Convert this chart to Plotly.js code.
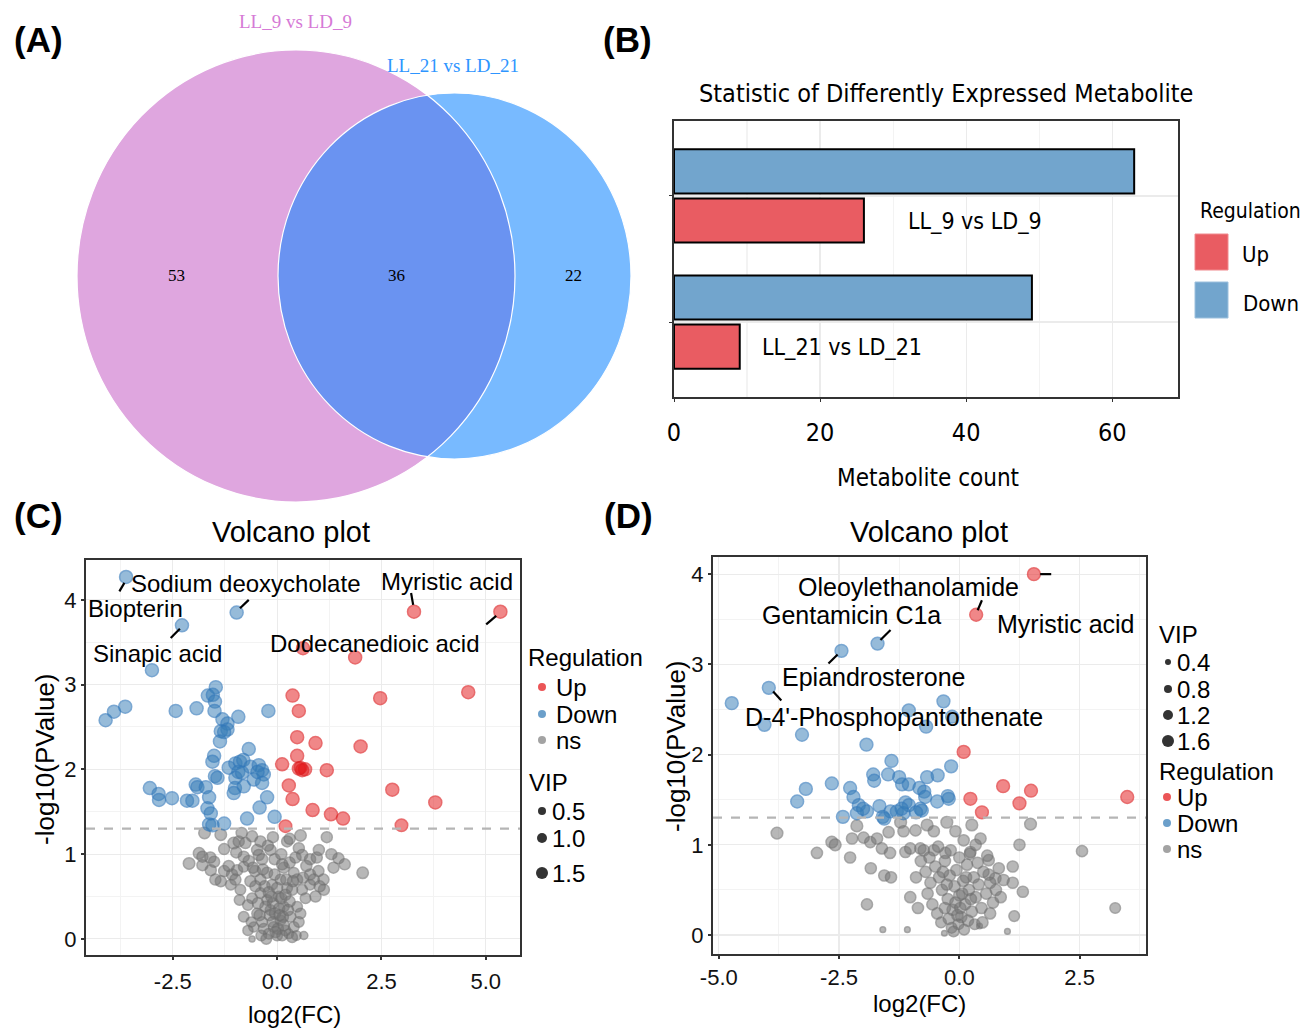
<!DOCTYPE html>
<html>
<head>
<meta charset="utf-8">
<script src="https://cdn.plot.ly/plotly-3.0.1.min.js"></script>
<style>html,body{margin:0;padding:0;background:#fff}#chart{width:1309px;height:1028px}</style>
</head>
<body>
<div id="chart"></div>
<script>
// ---------------- DATA ----------------
// Venn (A)
const vennSets = ["LL_9 vs LD_9", "LL_21 vs LD_21"];
const vennCounts = [53, 36, 22]; // only LL_9, shared, only LL_21

// Bar chart (B)
const barCategories = ["LL_9 vs LD_9", "LL_21 vs LD_21"];
const upCounts = [26, 9];
const downCounts = [63, 49];

// tick labels
const cXTickVals = [-2.5, 0, 2.5, 5];
const cXTickText = ["-2.5", "0.0", "2.5", "5.0"];
const dXTickVals = [-5, -2.5, 0, 2.5];
const dXTickText = ["-5.0", "-2.5", "0.0", "2.5"];

// Volcano C : [log2FC, -log10(p), VIP]
const cUp = [
  [3.28,3.86,1.5],[5.35,3.86,1.5],[0.62,3.43,1.5],[1.87,3.32,1.5],[4.58,2.91,1.5],[2.47,2.84,1.5],
  [0.37,2.87,1.5],[0.52,2.69,1.5],[0.48,2.38,1.5],[0.92,2.31,1.5],[2.00,2.27,1.5],[0.48,2.16,1.5],
  [0.12,2.06,1.5],[0.52,2.01,1.5],[0.60,1.99,1.5],[0.67,2.00,1.5],[0.56,2.02,1.4],[1.19,1.99,1.5],[0.28,1.81,1.5],
  [0.37,1.65,1.5],[2.76,1.76,1.5],[3.79,1.61,1.5],[0.85,1.52,1.5],[1.29,1.47,1.5],[1.58,1.42,1.5],
  [2.98,1.34,1.4],[0.20,1.33,1.4]
];
const cDown = [
  [-3.62,4.27,1.5],[-0.97,3.85,1.5],[-2.28,3.70,1.5],[-3.00,3.17,1.5],[-1.47,2.97,1.5],[-1.66,2.87,1.5],
  [-1.54,2.88,1.5],[-1.49,2.80,1.5],[-4.11,2.58,1.5],[-3.91,2.68,1.5],[-3.64,2.74,1.5],[-2.43,2.69,1.5],
  [-1.93,2.72,1.5],[-1.50,2.69,1.5],[-0.93,2.62,1.5],[-0.21,2.69,1.5],[-1.31,2.59,1.5],[-1.19,2.54,1.5],
  [-1.35,2.45,1.5],[-1.19,2.47,1.5],[-1.27,2.44,1.5],[-1.37,2.33,1.5],[-0.68,2.24,1.5],[-1.51,2.16,1.5],[-1.55,2.09,1.5],
  [-1.16,2.02,1.5],[-1.00,2.07,1.5],[-0.89,2.09,1.5],[-0.81,2.11,1.5],[-0.93,1.97,1.5],[-0.64,2.03,1.5],
  [-0.44,2.05,1.5],[-0.36,1.99,1.5],[-0.32,1.94,1.5],[-0.56,1.88,1.5],[-0.36,1.84,1.5],[-1.49,1.92,1.5],
  [-1.43,1.90,1.5],[-1.00,1.90,1.5],[-1.01,1.78,1.5],[-0.80,1.80,1.5],[-1.04,1.72,1.5],[-1.95,1.82,1.5],
  [-1.91,1.79,1.5],[-1.71,1.79,1.5],[-3.05,1.78,1.5],[-2.84,1.71,1.5],[-2.83,1.64,1.5],[-2.52,1.66,1.5],
  [-2.16,1.63,1.5],[-2.03,1.63,1.5],[-1.63,1.67,1.5],[-1.67,1.54,1.5],[-1.59,1.48,1.5],[-0.24,1.67,1.5],
  [-0.42,1.55,1.5],[-0.72,1.42,1.5],[-0.06,1.44,1.5],[-1.63,1.35,1.5],[-1.55,1.34,1.5],[-1.27,1.36,1.5],
  [-0.47,1.97,1.5],[-0.84,1.96,1.5]
];
const cNs = [
  [-1.74,1.25,1.2],[-1.35,1.23,1.2],[-1.04,1.13,1.2],[-0.92,1.15,1.1],[-0.76,1.13,1.1],[-0.60,1.21,1.1],
  [-0.40,1.15,1.1],[-0.16,1.05,1.1],[0.24,1.15,1.1],[0.56,1.22,1.2],[1.19,1.20,1.1],[-1.87,1.01,1.2],
  [-1.79,0.97,1.1],[-1.27,1.06,1.1],[-0.80,0.97,1.1],[-0.48,1.05,1.1],[-0.44,0.99,1.1],[-0.36,0.94,1.1],
  [-0.06,0.94,1.1],[0.52,1.07,1.1],[0.60,0.99,1.1],[0.79,0.94,1.1],[0.95,0.96,1.1],[1.47,0.95,1.1],
  [-2.11,0.89,1.2],[-1.51,0.91,1.1],[-1.79,0.87,1.1],[-1.59,0.81,1.1],[-1.27,0.80,1.1],[-1.08,0.76,1.1],
  [-0.96,0.81,1.1],[-0.80,0.85,1.0],[-0.53,0.80,1.1],[0.16,0.84,1.1],[0.40,0.78,1.0],[0.79,0.76,1.1],
  [0.99,0.80,1.1],[1.35,0.84,1.1],[2.05,0.78,1.2],[-1.35,0.68,1.1],[-1.11,0.64,1.0],[-0.88,0.58,1.0],
  [-0.64,0.68,1.1],[-0.60,0.48,1.0],[-0.40,0.70,1.1],[-0.24,0.78,1.1],[-0.12,0.64,1.0],[0.08,0.70,1.0],
  [0.24,0.60,1.0],[0.48,0.70,1.1],[0.60,0.58,1.0],[0.79,0.64,1.0],[1.11,0.70,1.1],[1.12,0.58,1.1],
  [0.68,0.48,1.0],[0.48,0.38,1.0],[-0.80,0.26,1.0],[-0.56,0.14,0.9],[-0.48,0.30,1.0],[-0.36,0.20,1.0],
  [-0.16,0.34,1.0],[-0.08,0.14,1.0],[0.00,0.04,1.0],[0.08,0.22,1.0],[0.20,0.10,1.0],[0.32,0.26,1.0],
  [0.40,0.14,1.0],[0.64,0.04,0.5],[-0.60,0.00,0.1],[0.04,0.50,1.0],[-0.24,0.46,1.0],[0.16,0.38,1.0],
  [-0.40,0.54,1.0],[-0.30,0.62,1.1],[-0.20,0.55,1.1],[-0.10,0.42,1.1],[0.00,0.60,1.1],[0.10,0.48,1.1],
  [0.20,0.52,1.1],[0.30,0.44,1.1],[0.36,0.58,1.1],[-0.28,0.38,1.1],[-0.18,0.28,1.1],[-0.05,0.30,1.1],
  [0.05,0.36,1.1],[0.14,0.26,1.1],[0.26,0.34,1.1],[-0.32,0.12,1.0],[-0.20,0.06,1.0],[-0.10,0.20,1.1],
  [0.02,0.12,1.1],[0.12,0.04,1.0],[0.28,0.06,0.8],[-0.04,0.08,1.1],[0.06,0.28,1.1],[-0.14,0.50,1.1],
  [0.22,0.70,1.1],[-0.34,0.82,1.1],[0.30,0.90,1.1],[0.44,0.96,1.1],[-0.22,1.10,1.1],[0.10,1.00,1.1],
  [0.70,0.86,1.1],[0.88,0.70,1.1],[0.92,0.50,1.1],[1.02,0.62,1.1],[0.56,0.30,1.0],[-0.70,0.40,1.0],
  [-0.90,0.46,1.0],[-1.00,0.70,1.1],[-1.16,0.86,1.1],[-0.68,0.92,1.1],[-0.52,0.62,1.1],[-0.46,0.42,1.1],
  [-0.62,0.20,0.9],[-0.70,0.10,0.9],[-0.38,0.04,1.0],[0.46,0.04,0.8],[0.52,0.20,1.0],[0.36,0.02,1.0],
  [-0.26,0.00,1.0],[0.16,0.16,1.1],[-0.42,0.28,1.1],[0.62,0.72,1.1],[0.38,0.68,1.1],[-0.06,0.76,1.1],
  [0.12,0.88,1.1],[-0.58,0.84,1.1],[-0.98,1.02,1.1],[-1.48,0.70,1.1],[-1.60,0.96,1.1],[1.30,1.00,1.1],
  [1.00,1.05,1.1],[0.30,1.18,1.1],[-0.10,1.20,1.1],[-0.85,1.25,1.1],[1.62,0.88,1.1]
];

// Volcano D : [log2FC, -log10(p), VIP]
const dUp = [
  [1.55,4.00,1.6],[0.35,3.55,1.6],[0.09,2.03,1.6],[0.91,1.65,1.6],[1.49,1.60,1.6],
  [0.23,1.51,1.6],[1.25,1.46,1.6],[3.49,1.53,1.6],[0.47,1.36,1.6]
];
const dDown = [
  [-1.70,3.23,1.6],[-2.45,3.15,1.6],[-3.96,2.74,1.6],[-4.73,2.57,1.6],[-4.05,2.33,1.6],[-3.27,2.22,1.6],
  [-0.33,2.59,1.6],[-1.05,2.49,1.6],[-0.15,2.42,1.6],[-0.69,2.31,1.6],[-1.93,2.11,1.6],[-1.41,1.93,1.6],
  [-0.17,1.87,1.6],[-1.79,1.78,1.6],[-1.77,1.71,1.6],[-1.48,1.78,1.6],[-1.25,1.75,1.6],[-1.19,1.67,1.6],
  [-1.05,1.67,1.6],[-0.67,1.75,1.6],[-0.45,1.77,1.6],[-2.65,1.68,1.6],[-3.19,1.62,1.6],[-3.37,1.48,1.6],
  [-2.27,1.63,1.6],[-2.20,1.53,1.6],[-2.09,1.44,1.6],[-1.92,1.37,1.6],[-2.13,1.35,1.6],[-2.42,1.31,1.6],
  [-1.66,1.43,1.6],[-1.59,1.31,1.6],[-1.43,1.37,1.6],[-1.30,1.37,1.6],[-1.16,1.35,1.6],[-1.12,1.47,1.6],
  [-1.05,1.44,1.6],[-0.83,1.63,1.6],[-0.73,1.59,1.6],[-0.71,1.53,1.6],[-0.81,1.40,1.6],[-0.46,1.48,1.6],
  [-0.24,1.54,1.6],[-0.22,1.51,1.6],[-0.78,1.38,1.6],[-1.56,1.29,1.6],[-1.20,1.40,1.6],[-2.00,1.40,1.6],
  [-0.90,1.36,1.6]
];
const dNs = [
  [-3.79,1.13,1.4],[-2.96,0.91,1.3],[-2.65,1.03,1.4],[-2.58,1.00,1.4],[-2.27,0.86,1.3],[-1.84,0.74,1.3],
  [-1.56,0.66,1.3],[-1.42,0.64,1.3],[-1.92,0.34,1.3],[2.55,0.93,1.3],[3.24,0.30,1.2],[1.48,1.23,1.4],
  [1.25,1.00,1.3],[1.11,0.76,1.3],[1.11,0.58,1.3],[1.32,0.48,1.3],[1.14,0.21,1.2],[-1.59,0.06,0.3],
  [-1.08,0.06,0.3],[-0.31,0.02,0.3],[1.00,0.04,0.3],[0.42,0.10,0.3],[-2.13,1.21,1.4],
  [-2.23,1.07,1.3],[-1.99,1.08,1.3],[-1.85,1.03,1.3],[-1.71,1.07,1.3],[-1.61,0.96,1.3],[-1.44,0.91,1.3],
  [-1.12,0.92,1.3],[-1.02,0.96,1.3],[-0.81,0.96,1.3],[-0.53,0.94,1.3],[-0.29,0.91,1.3],[-0.26,1.25,1.4],
  [-0.67,1.22,1.4],[-0.91,1.16,1.3],[-1.22,1.25,1.4],[-1.47,1.14,1.3],[-1.16,1.15,1.3],[-0.53,1.15,1.3],
  [-0.08,1.15,1.3],[0.09,1.05,1.3],[0.26,1.22,1.4],[0.44,1.07,1.3],[0.23,0.92,1.3],[0.61,0.83,1.3],
  [0.82,0.74,1.3],[0.75,0.63,1.3],[0.92,0.61,1.3],[0.61,0.67,1.3],
  [-0.80,0.82,1.3],[-0.70,0.70,1.3],[-0.60,0.58,1.3],[-0.50,0.76,1.3],[-0.42,0.64,1.3],[-0.36,0.50,1.3],
  [-0.30,0.82,1.3],[-0.24,0.40,1.3],[-0.20,0.66,1.3],[-0.14,0.28,1.3],[-0.10,0.54,1.3],[-0.06,0.72,1.3],
  [0.00,0.44,1.3],[0.04,0.20,1.3],[0.08,0.60,1.3],[0.12,0.34,1.3],[0.16,0.78,1.3],[0.20,0.50,1.3],
  [0.26,0.26,1.3],[0.30,0.64,1.3],[0.34,0.42,1.3],[0.40,0.56,1.3],[0.46,0.30,1.3],[0.50,0.70,1.3],
  [0.56,0.46,1.3],[0.64,0.58,1.3],[0.70,0.36,1.3],[-0.66,0.46,1.3],[-0.56,0.34,1.3],[-0.46,0.24,1.3],
  [-0.38,0.14,1.2],[-0.30,0.30,1.3],[-0.22,0.18,1.3],[-0.16,0.08,1.2],[-0.08,0.36,1.3],[-0.02,0.12,1.2],
  [0.02,0.30,1.3],[0.10,0.06,1.2],[0.18,0.16,1.3],[0.24,0.40,1.3],[0.32,0.12,1.2],[-0.12,0.04,1.2],
  [-0.04,0.22,1.3],[0.06,0.46,1.3],[-0.26,0.56,1.3],[-0.34,0.70,1.3],[0.14,0.64,1.3],[0.38,0.80,1.3],
  [0.58,0.88,1.3],[-0.74,0.94,1.3],[-0.90,0.64,1.3],[-1.02,0.42,1.3],[-0.86,0.30,1.3],[-0.62,0.86,1.3],
  [0.22,0.90,1.3],[-0.18,0.94,1.3],[0.76,0.50,1.3],[0.86,0.42,1.3],[0.48,0.14,1.3],[0.00,0.86,1.3],
  [-0.44,0.98,1.3],[0.34,1.00,1.3],[0.64,0.24,1.3]
];

// labelled metabolites
const cLabels = ["Sodium deoxycholate", "Biopterin", "Sinapic acid", "Myristic acid", "Dodecanedioic acid"];
const dLabels = ["Oleoylethanolamide", "Gentamicin C1a", "Myristic acid", "Epiandrosterone", "D-4'-Phosphopantothenate"];

const cVipLegend = [0.5, 1.0, 1.5];
const dVipLegend = [0.4, 0.8, 1.2, 1.6];
const regLevels = ["Up", "Down", "ns"];
const barRegLevels = ["Up", "Down"];

// ---------------- LAYOUT HELPERS ----------------
const W = 1309, H = 1028;
const X = p => p / W;
const Y = p => 1 - p / H;
const SANS = "Liberation Sans, Arial, sans-serif";
const NARROW = "Liberation Sans Narrow, Arial Narrow, DejaVu Sans Condensed, sans-serif";
const SERIF = "Liberation Serif, Times New Roman, serif";

const RED = "rgba(228,26,28,0.74)", REDL = "rgba(220,30,32,0.88)";
const BLUE = "rgba(55,126,184,0.74)", BLUEL = "rgba(50,120,185,0.88)";
const GRAY = "rgba(118,118,118,0.74)", GRAYL = "rgba(110,110,110,0.82)";

const sizeC = v => 5.5 + 5 * v;
const sizeD = v => 4 + 5.5 * v;

function pts(arr, xa, ya, color, lcol, sizeFn) {
  return {
    type: "scatter", mode: "markers", xaxis: xa, yaxis: ya, showlegend: false, hoverinfo: "x+y",
    x: arr.map(p => p[0]), y: arr.map(p => p[1]),
    marker: { color: color, size: arr.map(p => sizeFn(p[2])), line: { color: lcol, width: 1.5 } }
  };
}

const traces = [
  { type: "bar", orientation: "h", xaxis: "x2", yaxis: "y2", x: upCounts, y: barCategories, name: "Up",
    offset: -0.37, width: 0.35, showlegend: false,
    marker: { color: "#E95C62", line: { color: "#000", width: 2 } } },
  { type: "bar", orientation: "h", xaxis: "x2", yaxis: "y2", x: downCounts, y: barCategories, name: "Down",
    offset: 0.02, width: 0.35, showlegend: false,
    marker: { color: "#72A5CD", line: { color: "#000", width: 2 } } },
  pts(cNs, "x3", "y3", GRAY, GRAYL, sizeC),
  pts(cDown, "x3", "y3", BLUE, BLUEL, sizeC),
  pts(cUp, "x3", "y3", RED, REDL, sizeC),
  pts(dNs, "x4", "y4", GRAY, GRAYL, sizeD),
  pts(dDown, "x4", "y4", BLUE, BLUEL, sizeD),
  pts(dUp, "x4", "y4", RED, REDL, sizeD)
];

const shapes = [];
const annotations = [];

function ann(text, px, py, opts) {
  annotations.push(Object.assign({ text: text, x: X(px), y: Y(py), xref: "paper", yref: "paper",
    showarrow: false, xanchor: "center", yanchor: "middle",
    font: { family: SANS, size: 24, color: "#000" } }, opts || {}));
}
function ellipse(x0, y0, x1, y1, fill, line) {
  shapes.push({ type: "circle", xref: "paper", yref: "paper", x0: X(x0), x1: X(x1), y0: Y(y1), y1: Y(y0),
    fillcolor: fill, line: line, layer: "above" });
}
function dot(cx, cy, d, color) {
  shapes.push({ type: "circle", xref: "paper", yref: "paper", x0: X(cx - d / 2), x1: X(cx + d / 2),
    y0: Y(cy + d / 2), y1: Y(cy - d / 2), fillcolor: color, line: { width: 0 } });
}
function seg(xa, ya, x0, y0, x1, y1) {
  shapes.push({ type: "line", xref: xa, yref: ya, x0: x0, y0: y0, x1: x1, y1: y1,
    line: { color: "#000", width: 2.2 } });
}

// ---- Panel labels
[["(A)", 38, 40], ["(B)", 627, 40], ["(C)", 38, 515], ["(D)", 628, 515]].forEach(l =>
  ann("<b>" + l[0] + "</b>", l[1], l[2], { font: { family: SANS, size: 35, color: "#000" } }));

// ---- Venn (A)
ellipse(77, 50, 515, 502, "#DFA6DF", { width: 0 });
ellipse(278, 93, 631, 459, "rgba(18,134,255,0.57)", { width: 0 });
ellipse(77, 50, 515, 502, "rgba(0,0,0,0)", { color: "#fff", width: 1.2 });
ellipse(278, 93, 631, 459, "rgba(0,0,0,0)", { color: "#fff", width: 1.2 });
ann(vennSets[0], 295, 21, { font: { family: SERIF, size: 19, color: "#D67AD6" } });
ann(vennSets[1], 453, 65, { font: { family: SERIF, size: 19, color: "#2E95FF" } });
ann(String(vennCounts[0]), 176, 276, { font: { family: SERIF, size: 17, color: "#000" } });
ann(String(vennCounts[1]), 396, 276, { font: { family: SERIF, size: 17, color: "#000" } });
ann(String(vennCounts[2]), 573, 276, { font: { family: SERIF, size: 17, color: "#000" } });

// ---- Bar (B)
ann("Statistic of Differently Expressed Metabolite", 946, 93, { font: { family: NARROW, size: 25, color: "#000" } });
ann("Metabolite count", 928, 478, { font: { family: NARROW, size: 24, color: "#000" } });
annotations.push({ text: barCategories[0], xref: "x2", yref: "y2", x: 31.8, y: 0.805, xanchor: "left",
  showarrow: false, font: { family: NARROW, size: 23, color: "#000" } });
annotations.push({ text: barCategories[1], xref: "x2", yref: "y2", x: 11.8, y: -0.195, xanchor: "left",
  showarrow: false, font: { family: NARROW, size: 23, color: "#000" } });
ann("Regulation", 1198, 211, { xanchor: "left", font: { family: NARROW, size: 21, color: "#000" } });
shapes.push({ type: "rect", xref: "paper", yref: "paper", x0: X(1195), x1: X(1228), y0: Y(270), y1: Y(234),
  fillcolor: "#E95C62", line: { color: "#F08A8E", width: 1 } });
shapes.push({ type: "rect", xref: "paper", yref: "paper", x0: X(1195), x1: X(1228), y0: Y(318), y1: Y(282),
  fillcolor: "#72A5CD", line: { color: "#9CC0DD", width: 1 } });
ann(barRegLevels[0], 1240, 254, { xanchor: "left", font: { family: NARROW, size: 22, color: "#000" } });
ann(barRegLevels[1], 1241, 303, { xanchor: "left", font: { family: NARROW, size: 22, color: "#000" } });

// ---- Volcano C
ann("Volcano plot", 291, 532, { font: { family: SANS, size: 29, color: "#000" } });
ann("log2(FC)", 294, 1014, { font: { family: SANS, size: 24, color: "#000" } });
ann("-log10(PValue)", 45, 759, { textangle: -90, font: { family: SANS, size: 26, color: "#000" } });
shapes.push({ type: "line", xref: "x3 domain", yref: "y3", x0: 0, x1: 1, y0: 1.301, y1: 1.301,
  line: { color: "#b5b5b5", width: 2.2, dash: "dash" } });
ann(cLabels[0], 245, 583, {});
ann(cLabels[1], 86, 608, { xanchor: "left" });
ann(cLabels[2], 157, 653, {});
ann(cLabels[3], 447, 581, {});
ann(cLabels[4], 374, 643, {});
seg("x3", "y3", -3.78, 4.10, -3.66, 4.20);
seg("x3", "y3", -0.89, 3.90, -0.68, 4.00);
seg("x3", "y3", -2.55, 3.55, -2.33, 3.66);
seg("x3", "y3", 3.21, 4.08, 3.26, 3.94);
seg("x3", "y3", 5.01, 3.71, 5.25, 3.81);
// legend C
ann("Regulation", 526, 657, { xanchor: "left" });
[[RED, 687], [BLUE, 714], ["rgba(140,140,140,0.8)", 740]].forEach((r, i) => {
  dot(542, r[1], 8, r[0]);
  ann(regLevels[i], 554, r[1], { xanchor: "left" });
});
ann("VIP", 527, 782, { xanchor: "left" });
[[811, 8], [838, 10], [873, 12]].forEach((r, i) => {
  dot(542, r[0], r[1], "#333");
  ann(cVipLegend[i].toFixed(1), 550, r[0], { xanchor: "left" });
});

// ---- Volcano D
ann("Volcano plot", 929, 532, { font: { family: SANS, size: 29, color: "#000" } });
ann("log2(FC)", 919, 1003, { font: { family: SANS, size: 24, color: "#000" } });
ann("-log10(PValue)", 676, 746, { textangle: -90, font: { family: SANS, size: 26, color: "#000" } });
shapes.push({ type: "line", xref: "x4 domain", yref: "y4", x0: 0, x1: 1, y0: 1.301, y1: 1.301,
  line: { color: "#b5b5b5", width: 2.2, dash: "dash" } });
const dFont = { font: { family: SANS, size: 25, color: "#000" } };
ann(dLabels[0], 908, 587, dFont);
ann(dLabels[1], 851, 615, dFont);
ann(dLabels[2], 1066, 624, dFont);
ann(dLabels[3], 873, 677, dFont);
ann(dLabels[4], 894, 717, dFont);
seg("x4", "y4", 0.47, 3.71, 0.38, 3.60);
seg("x4", "y4", 1.68, 4.00, 1.91, 4.00);
seg("x4", "y4", -1.64, 3.27, -1.43, 3.38);
seg("x4", "y4", -2.72, 3.01, -2.53, 3.11);
seg("x4", "y4", -3.87, 2.70, -3.70, 2.60);
// legend D
ann("VIP", 1157, 634, { xanchor: "left" });
[[662, 6], [689, 8], [715, 10], [741, 12]].forEach((r, i) => {
  dot(1168, r[0], r[1], "#333");
  ann(dVipLegend[i].toFixed(1), 1175, r[0], { xanchor: "left" });
});
ann("Regulation", 1157, 771, { xanchor: "left" });
[[RED, 797], [BLUE, 823], ["rgba(140,140,140,0.8)", 849]].forEach((r, i) => {
  dot(1167, r[1], 8, r[0]);
  ann(regLevels[i], 1175, r[1], { xanchor: "left" });
});

// ---------------- AXES ----------------
const grid = "#ebebeb";
function volcAxis(domain, range, dtick, minorDtick, fmt, standoff, fsize) {
  return {
    domain: domain, range: range, dtick: dtick, tick0: 0, tickformat: fmt,
    showgrid: true, gridcolor: grid, gridwidth: 1.2, zeroline: false,
    minor: { dtick: minorDtick, tick0: 0, showgrid: true, gridcolor: "#f3f3f3", gridwidth: 1, ticks: "" },
    showline: true, mirror: true, linecolor: "#333", linewidth: 2,
    ticks: "outside", ticklen: 3, tickwidth: 2, tickcolor: "#333",
    ticklabelstandoff: standoff,
    tickfont: { family: SANS, size: fsize, color: "#111" }, fixedrange: true
  };
}

const layout = {
  width: W, height: H, margin: { l: 0, r: 0, t: 0, b: 0 },
  paper_bgcolor: "#fff", plot_bgcolor: "rgba(0,0,0,0)", showlegend: false,
  xaxis2: {
    domain: [X(674), X(1178)], range: [0, 69], dtick: 20, tick0: 0, anchor: "y2",
    showgrid: true, gridcolor: grid, gridwidth: 1.2, zeroline: false,
    minor: { dtick: 10, tick0: 0, showgrid: true, gridcolor: "#f3f3f3", ticks: "" },
    showline: true, mirror: true, linecolor: "#333", linewidth: 2,
    ticks: "outside", ticklen: 3, tickcolor: "#333", ticklabelstandoff: 9,
    tickfont: { family: NARROW, size: 25, color: "#000" }, fixedrange: true
  },
  yaxis2: {
    domain: [Y(397), Y(121)], type: "category", categoryarray: [barCategories[1], barCategories[0]],
    categoryorder: "array", range: [-0.595, 1.595], anchor: "x2",
    showgrid: true, gridcolor: grid, gridwidth: 1.2, zeroline: false,
    showline: true, mirror: true, linecolor: "#333", linewidth: 2,
    ticks: "outside", ticklen: 3, tickcolor: "#333", showticklabels: false, fixedrange: true
  },
  xaxis3: Object.assign(volcAxis([X(86), X(520)], [-4.58, 5.82], 2.5, 1.25, ".1f", 3, 22),
    { anchor: "y3", tickmode: "array", tickvals: cXTickVals, ticktext: cXTickText }),
  yaxis3: Object.assign(volcAxis([Y(955), Y(560)], [-0.19, 4.47], 1, 0.5, "d", 0, 22), { anchor: "x3" }),
  xaxis4: Object.assign(volcAxis([X(713), X(1146)], [-5.12, 3.88], 2.5, 1.25, ".1f", 0, 22),
    { anchor: "y4", tickmode: "array", tickvals: dXTickVals, ticktext: dXTickText }),
  yaxis4: Object.assign(volcAxis([Y(954), Y(557)], [-0.21, 4.19], 1, 0.5, "d", 0, 22), { anchor: "x4" }),
  shapes: shapes,
  annotations: annotations
};

Plotly.newPlot("chart", traces, layout, { staticPlot: true, displayModeBar: false });
</script>
</body>
</html>
